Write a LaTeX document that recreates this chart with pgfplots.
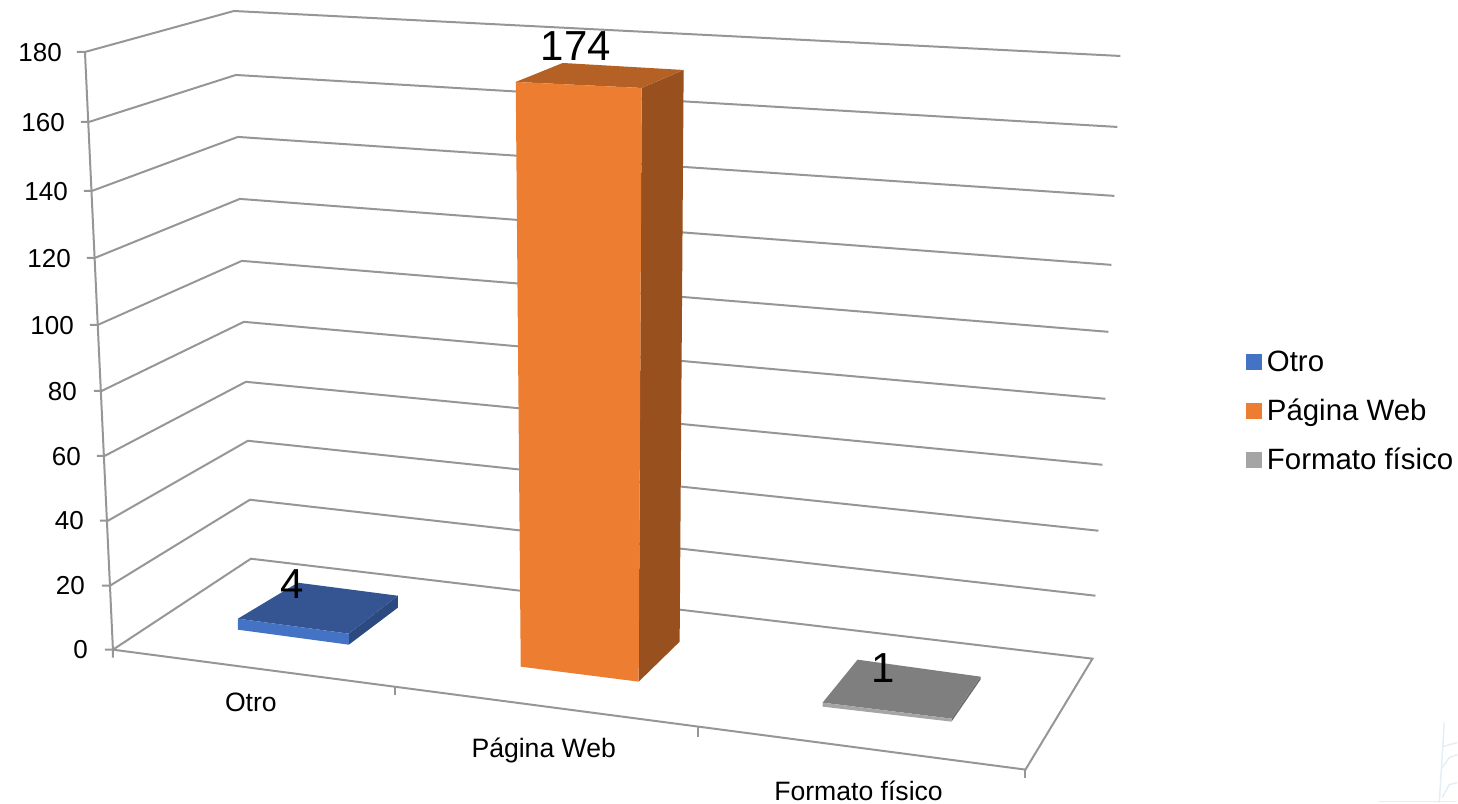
\documentclass[border=0pt]{standalone}
\usepackage{pgfplots}
\pgfplotsset{compat=1.18}
\usepackage{fontspec}
\setmainfont{Liberation Sans}
\definecolor{gridc}{HTML}{969696}
\definecolor{bluef}{HTML}{4472C4}
\definecolor{bluet}{HTML}{345592}
\definecolor{bluer}{HTML}{2C4A80}
\definecolor{oranf}{HTML}{ED7D31}
\definecolor{orant}{HTML}{B56024}
\definecolor{oranr}{HTML}{98501F}
\definecolor{grayf}{HTML}{A5A5A5}
\definecolor{grayt}{HTML}{7F7F7F}
\definecolor{grayr}{HTML}{6E6E6E}
\definecolor{markc}{HTML}{E4EFF5}
\newcommand{\tl}[3]{\node[anchor=east,inner sep=0pt,font=\fontsize{26}{26}\selectfont] at (axis cs:#1,#2) {#3};}
\newcommand{\cl}[3]{\node[anchor=center,inner sep=0pt,font=\fontsize{26.6}{27}\selectfont] at (axis cs:#1,#2) {#3};}
\newcommand{\dl}[3]{\node[anchor=center,inner sep=0pt,font=\fontsize{42}{42}\selectfont] at (axis cs:#1,#2) {#3};}
\begin{document}
\begin{tikzpicture}
\begin{axis}[
  scale only axis, width=1458pt, height=803pt,
  xmin=0, xmax=1458, ymin=0, ymax=803, y dir=reverse,
  axis line style={draw=none}, ticks=none, clip=false,
  legend cell align=left,
  legend style={draw=none, fill=none, anchor=north west, at={(axis cs:1246,349)},
    font=\fontsize{29.4}{34}\selectfont, row sep=22pt, inner sep=0pt,
    /tikz/every odd column/.append style={column sep=4pt}},
]
% legend
\addlegendimage{area legend, legend image code/.code={\fill[bluef] (0pt,-7.5pt) rectangle (15pt,7.5pt);}}
\addlegendentry{Otro}
\addlegendimage{area legend, legend image code/.code={\fill[oranf] (0pt,-7.5pt) rectangle (15pt,7.5pt);}}
\addlegendentry{Página Web}
\addlegendimage{area legend, legend image code/.code={\fill[grayf] (0pt,-7.5pt) rectangle (15pt,7.5pt);}}
\addlegendentry{Formato físico}
% gridlines: left point, back corner, right point
\pgfplotsset{every axis plot/.append style={forget plot}}
\addplot[gridc,line width=2pt] coordinates {(77,52)(85,52)(234,11)(1121,56)};
\addplot[gridc,line width=2pt] coordinates {(81,122)(89,122)(236,75)(1118,127)};
\addplot[gridc,line width=2pt] coordinates {(84,191)(92,191)(238,137)(1115,196)};
\addplot[gridc,line width=2pt] coordinates {(87,258)(95,258)(240,199)(1112,265)};
\addplot[gridc,line width=2pt] coordinates {(90,325)(98,325)(242,261)(1109,332)};
\addplot[gridc,line width=2pt] coordinates {(94,391)(102,391)(244,322)(1106,399)};
\addplot[gridc,line width=2pt] coordinates {(97,456)(105,456)(246,382)(1103,465)};
\addplot[gridc,line width=2pt] coordinates {(100,521)(108,521)(248,441)(1099,531)};
\addplot[gridc,line width=2pt] coordinates {(102,586)(110,586)(250,500)(1096,596)};
\addplot[gridc,line width=2pt] coordinates {(105,650)(113,650)(251,559)(1093,659)(1026,770)(113,650)};
% value axis and floor ticks
\addplot[gridc,line width=2pt] coordinates {(85,52)(113,650)(113,658)};
\addplot[gridc,line width=2pt] coordinates {(395,687)(395,695)};
\addplot[gridc,line width=2pt] coordinates {(698,727)(698,737)};
\addplot[gridc,line width=2pt] coordinates {(1026,770)(1026,778)};
% Otro = 4
\addplot[fill=bluer,draw=none] coordinates {(349,634)(398,596)(398,608)(349,645)} --cycle;
\addplot[fill=bluet,draw=none] coordinates {(238,619)(298,583)(398,596)(349,634)} --cycle;
\addplot[fill=bluef,draw=none] coordinates {(238,619)(349,634)(349,645)(238,630)} --cycle;
% Pagina Web = 174
\addplot[fill=oranr,draw=none] coordinates {(642,88)(684,70)(680,642)(639,682)} --cycle;
\addplot[fill=orant,draw=none] coordinates {(516,82)(563,63)(684,70)(642,88)} --cycle;
\addplot[fill=oranf,draw=none] coordinates {(516,82)(642,88)(639,682)(521,667)} --cycle;
% Formato fisico = 1
\addplot[fill=grayr,draw=none] coordinates {(952,719)(981,677)(981,680)(952,722)} --cycle;
\addplot[fill=grayt,draw=none] coordinates {(823,703)(858,660)(981,677)(952,719)} --cycle;
\addplot[fill=grayf,draw=none] coordinates {(823,703)(952,719)(952,722)(823,707)} --cycle;
% faint corner mark
\addplot[markc,line width=1.5pt] coordinates {(1445,723)(1440,803)};
\addplot[markc,line width=1.5pt] coordinates {(1443,747)(1458,743)};
\addplot[markc,line width=1.5pt] coordinates {(1443,768)(1450,758)(1458,755)};
\addplot[markc,line width=1.5pt] coordinates {(1443,798)(1450,785)(1458,783)};
\addplot[markc,line width=1.5pt] coordinates {(1380,802)(1458,802)};
% tick labels
\tl{62}{53}{180}\tl{65}{123}{160}\tl{68}{192}{140}\tl{71}{259}{120}\tl{74}{326}{100}
\tl{77}{392}{80}\tl{81}{457}{60}\tl{84}{521}{40}\tl{85}{586}{20}\tl{88}{650}{0}
% category labels
\cl{251}{703}{Otro}\cl{544}{751}{Página Web}\cl{859}{791}{Formato físico}
% data labels
\dl{292}{584}{4}\dl{576}{46}{174}\dl{884}{668}{1}
\end{axis}
\end{tikzpicture}
\end{document}
